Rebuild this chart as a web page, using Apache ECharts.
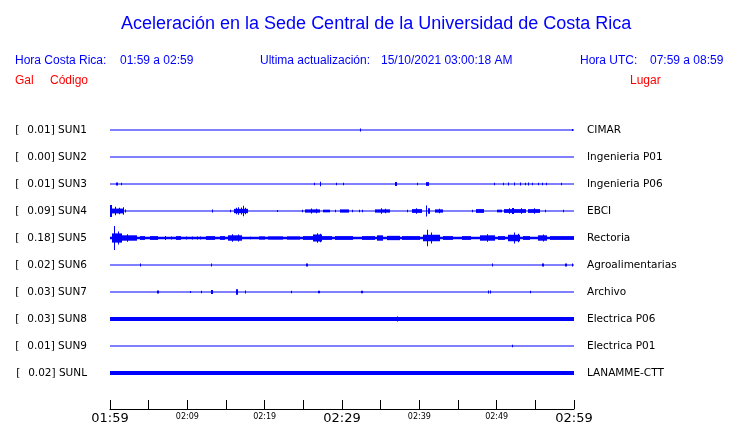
<!DOCTYPE html>
<html><head><meta charset="utf-8">
<script src="https://cdn.jsdelivr.net/npm/echarts@6/dist/echarts.min.js"></script>
<style>html,body{margin:0;padding:0;background:#fff}#c{width:740px;height:423px}</style>
</head><body><div id="c"></div>
<script>
// ---- data ----
const titleText = 'Aceleración en la Sede Central de la Universidad de Costa Rica';
const horaCR = '01:59 a 02:59';
const ultima = '15/10/2021 03:00:18 AM';
const horaUTC = '07:59 a 08:59';
const codes = ['SUN1','SUN2','SUN3','SUN4','SUN5','SUN6','SUN7','SUN8','SUN9','SUNL'];
const gal = ['0.01','0.00','0.01','0.09','0.18','0.02','0.03','0.03','0.01','0.02'];
const places = ['CIMAR','Ingenieria P01','Ingenieria P06','EBCI','Rectoria','Agroalimentarias','Archivo','Electrica P06','Electrica P01','LANAMME-CTT'];
const xTickLabels = ['01:59','02:09','02:19','02:29','02:39','02:49','02:59'];
const bigTickLabels = ['01:59','02:29','02:59'];
const minutesSpan = 60;
// events per trace: [startMinute, endMinute, halfAmplitude (fraction of trace spacing)]
const ev0 = [[32.3,32.3,0.06],[59.8,59.8,0.04]];
const ev1 = [];
const ev2 = [[0.8,1.1,0.06],[1.4,1.4,0.05],[26.4,26.4,0.05],[27.2,27.2,0.08],[29.2,29.2,0.05],[30.1,30.1,0.05],
  [36.9,37.2,0.07],[39.7,39.7,0.05],[40.8,41.2,0.07],[49.6,49.6,0.05],[50.8,50.8,0.05],[51.5,51.5,0.06],[52.3,52.4,0.06],
  [53.0,53.0,0.06],[53.6,53.6,0.05],[54.1,54.2,0.06],[54.6,54.6,0.05],[55.4,55.4,0.05],[55.9,55.9,0.05],[56.4,56.4,0.05],[58.3,58.3,0.05]];
const ev3 = [[0,0.3,0.22],[0.3,1.7,0.09],[0.6,0.6,0.16],[1.1,1.1,0.12],[1.7,1.8,0.14],[1.95,1.95,0.06],[13.2,13.2,0.06],[15.5,15.5,0.05],
  [16.0,17.8,0.08],[16.3,16.3,0.12],[16.6,16.7,0.14],[17.0,17.0,0.13],[17.2,17.3,0.19],[17.5,17.5,0.12],[21.6,21.6,0.04],[24.8,24.8,0.05],
  [25.2,27.2,0.06],[26.0,26.1,0.09],[26.6,26.6,0.08],[27.6,28.5,0.05],[29.1,29.1,0.05],[29.8,31.0,0.06],[31.3,31.3,0.05],
  [32.2,32.2,0.05],[32.6,32.6,0.05],[34.3,36.2,0.06],[35.0,35.1,0.1],[35.6,35.6,0.08],[38.4,38.4,0.05],[39.1,40.4,0.07],
  [39.6,39.6,0.1],[40.8,40.9,0.2],[41.1,41.4,0.1],[42.0,43.0,0.06],[42.5,42.5,0.08],[46.8,46.8,0.05],[47.3,48.3,0.07],[50.0,50.7,0.05],
  [51.0,53.9,0.07],[51.6,51.6,0.1],[52.0,52.2,0.11],[53.2,53.2,0.1],[54.1,55.6,0.07],[54.8,54.8,0.1],[56.3,56.3,0.05],[58.6,58.6,0.05]];
const ev4 = [[0.5,0.6,0.44],[0.2,1.5,0.17],[1.0,1.0,0.24],[1.5,3.5,0.1],[2.2,2.2,0.14],[3.9,4.5,0.07],[5.2,6.2,0.07],[7.1,7.2,0.07],[7.9,8.0,0.06],
  [8.5,9.1,0.07],[9.8,9.9,0.06],[10.6,10.7,0.06],[11.2,11.3,0.06],[11.6,11.7,0.06],[12.4,13.6,0.07],[14.2,14.9,0.07],
  [15.3,17.1,0.1],[15.8,15.9,0.14],[16.5,16.6,0.13],[18.1,18.1,0.05],[19.3,20.1,0.06],[20.4,22.4,0.06],[22.9,24.6,0.06],
  [25.0,28.8,0.07],[26.3,27.4,0.13],[26.8,26.9,0.18],[27.2,27.2,0.16],[29.1,31.4,0.07],[32.6,34.3,0.07],[34.5,35.3,0.1],[35.8,37.5,0.08],
  [37.8,40.1,0.07],[40.5,42.7,0.12],[41.0,41.1,0.31],[41.5,41.5,0.2],[43.1,44.4,0.07],[45.5,46.6,0.07],[47.9,49.8,0.1],[48.8,48.8,0.14],[50.2,51.1,0.07],
  [51.5,53.0,0.12],[52.2,52.3,0.2],[52.7,52.7,0.16],[53.4,54.3,0.07],[55.4,56.5,0.1],[56.0,56.0,0.13],[56.9,60,0.07]];
const ev5 = [[3.9,3.9,0.06],[13.1,13.1,0.06],[25.3,25.3,0.06],[25.5,25.5,0.06],[49.4,49.4,0.06],[55.9,56.1,0.06],[58.9,59.2,0.06],[59.8,59.8,0.06]];
const ev6 = [[6.1,6.4,0.06],[10.3,10.3,0.04],[11.8,11.8,0.05],[13.0,13.3,0.07],[16.3,16.5,0.1],[17.4,17.4,0.06],[23.4,23.4,0.05],
  [26.9,27.1,0.05],[32.4,32.6,0.05],[48.9,48.9,0.06],[49.1,49.1,0.06],[54.3,54.3,0.05]];
const ev7 = [[37.1,37.1,0.09],[41.0,41.0,0.06]];
const ev8 = [[52.0,52.0,0.05]];
const ev9 = [];
const events = [ev0,ev1,ev2,ev3,ev4,ev5,ev6,ev7,ev8,ev9];

// ---- chart ----
const BLUE = '#0000ff', RED = '#ff0000';
const baseWidths = [1,1,1,1,2.5,1,1,4,1,4];
const chart = echarts.init(document.getElementById('c'));
const eventRows = [];
events.forEach((list, i) => list.forEach(e => eventRows.push([i, e[0], e[1], e[2]])));

const baseSeries = codes.map((c, i) => ({
  type: 'line', yAxisIndex: 0, symbol: 'none', silent: true, animation: false,
  data: [[0, i], [minutesSpan, i]],
  lineStyle: { color: BLUE, width: baseWidths[i] }
}));

function labelFmt(arr) {
  return v => {
    const r = Math.round(v);
    if (Math.abs(v - r) > 1e-6 || r < 0 || r >= arr.length) return '';
    return arr[r];
  };
}
const yCommon = { type: 'value', min: -1, max: 10 + 1/3, interval: 1, inverse: true,
  axisLine: { show: false }, axisTick: { show: false }, splitLine: { show: false } };
const leftLabels = codes.map((c, i) => '{a|[}{b|' + gal[i] + '] ' + c + '}');

chart.setOption({
  animation: false,
  title: { text: titleText, left: 116, top: 10,
    textStyle: { color: BLUE, fontSize: 18, fontWeight: 'normal', fontFamily: 'Liberation Sans' } },
  grid: { left: 110, right: 166, top: 103, bottom: 14, outerBoundsMode: 'none', containLabel: false },
  xAxis: { type: 'value', min: 0, max: minutesSpan, interval: 5,
    axisLine: { show: true, onZero: false, lineStyle: { color: '#000', width: 1 } },
    axisTick: { show: true, inside: true, length: 9, lineStyle: { color: '#000' } },
    splitLine: { show: false },
    axisLabel: { margin: 3, verticalAlign: 'top', hideOverlap: false,
      formatter: v => {
        if (v % 10 !== 0) return '';
        const s = xTickLabels[v / 10];
        return bigTickLabels.includes(s) ? '{b|' + s + '}' : '{s|' + s + '}';
      },
      rich: {
        b: { fontFamily: 'DejaVu Sans', fontSize: 13, color: '#000' },
        s: { fontFamily: 'DejaVu Sans', fontSize: 8, color: '#000', padding: [1,0,0,0] }
      } } },
  yAxis: [
    Object.assign({}, yCommon, { position: 'left',
      axisLabel: { margin: 23, color: '#000', fontFamily: 'DejaVu Sans', fontSize: 10.5,
        formatter: labelFmt(leftLabels),
        rich: { a: { width: 12, align: 'left', fontFamily: 'DejaVu Sans', fontSize: 10.5, color: '#000' },
                b: { fontFamily: 'DejaVu Sans', fontSize: 10.5, color: '#000' } } } }),
    Object.assign({}, yCommon, { position: 'right',
      axisLabel: { margin: 13, color: '#000', fontFamily: 'DejaVu Sans', fontSize: 10.5,
        formatter: labelFmt(places) } })
  ],
  graphic: [
    { type: 'text', left: 15, top: 55, style: { text: 'Hora Costa Rica:', fill: BLUE, font: '12px "Liberation Sans"' } },
    { type: 'text', left: 120, top: 55, style: { text: horaCR, fill: BLUE, font: '12px "Liberation Sans"' } },
    { type: 'text', left: 260, top: 55, style: { text: 'Ultima actualización:', fill: BLUE, font: '12px "Liberation Sans"' } },
    { type: 'text', left: 381, top: 55, style: { text: ultima, fill: BLUE, font: '12px "Liberation Sans"' } },
    { type: 'text', left: 580, top: 55, style: { text: 'Hora UTC:', fill: BLUE, font: '12px "Liberation Sans"' } },
    { type: 'text', left: 650, top: 55, style: { text: horaUTC, fill: BLUE, font: '12px "Liberation Sans"' } },
    { type: 'text', left: 15, top: 75, style: { text: 'Gal', fill: RED, font: '12px "Liberation Sans"' } },
    { type: 'text', left: 50, top: 75, style: { text: 'Código', fill: RED, font: '12px "Liberation Sans"' } },
    { type: 'text', left: 630, top: 75, style: { text: 'Lugar', fill: RED, font: '12px "Liberation Sans"' } }
  ],
  series: baseSeries.concat([{
    type: 'custom', yAxisIndex: 0, silent: true,
    encode: { x: [1, 2], y: 0 },
    data: eventRows,
    renderItem: (params, api) => {
      const i = api.value(0), t0 = api.value(1), t1 = api.value(2), a = api.value(3);
      const p0 = api.coord([t0, i - a]);
      const p1 = api.coord([t1, i + a]);
      const x = Math.round(Math.min(p0[0], p1[0]));
      const w = Math.max(1, Math.round(Math.abs(p1[0] - p0[0])));
      const y = Math.min(p0[1], p1[1]);
      const h = Math.max(1, Math.abs(p1[1] - p0[1]));
      return { type: 'rect', shape: { x: x, y: y, width: w, height: h }, style: { fill: BLUE } };
    }
  }])
});
</script></body></html>
